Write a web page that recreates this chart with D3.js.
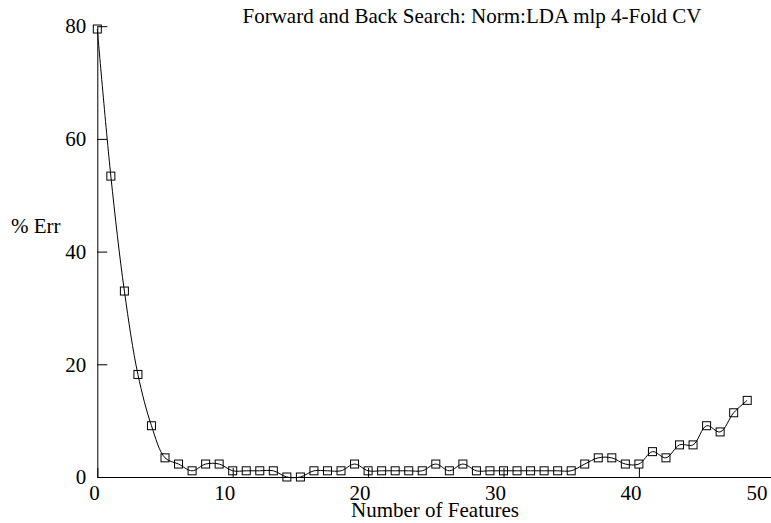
<!DOCTYPE html>
<html>
<head>
<meta charset="utf-8">
<script src="https://cdn.jsdelivr.net/npm/d3@7"></script>
<style>
  html, body { margin: 0; padding: 0; background: #fff; }
  svg { display: block; }
  text { font-family: "Liberation Serif", "Times New Roman", serif; fill: #000; }
</style>
</head>
<body>
<svg width="771" height="523"></svg>
<script>
var title = "Forward and Back Search: Norm:LDA mlp 4-Fold CV"
var xLabel = "Number of Features"
var yLabel = "% Err"
var xTicks = [0, 10, 20, 30, 40, 50]
var yTicks = [0, 20, 40, 60, 80]
var features = d3.range(0, 49)
var errors = [
  79.5, 53.4, 33.0, 18.2, 9.1, 3.4, 2.3, 1.1, 2.3, 2.3,
  1.1, 1.1, 1.1, 1.1, 0, 0, 1.1, 1.1, 1.1, 2.3,
  1.1, 1.1, 1.1, 1.1, 1.1, 2.3, 1.1, 2.3, 1.1, 1.1,
  1.1, 1.1, 1.1, 1.1, 1.1, 1.1, 2.3, 3.4, 3.4, 2.3,
  2.3, 4.5, 3.4, 5.7, 5.7, 9.1, 8.0, 11.4, 13.6
]

var width = 771
var height = 523
var margin = ({top: 26.2, right: -3.3, bottom: 46, left: 97.3})

var x = d3.scaleLinear()
  .domain([0, 50])
  .range([margin.left, width - margin.right])

var y = d3.scaleLinear()
  .domain([0, 80])
  .range([height - margin.bottom, margin.top])

var svg = d3.select("svg")

// x axis
var gx = svg.append("g")
  .attr("transform", `translate(0,${y(0)})`)
  .call(d3.axisBottom(x).tickValues(xTicks).tickSizeInner(-9).tickSizeOuter(0).tickPadding(8))
gx.select(".domain").attr("d", `M${x(0)},0.5H${width}`)
gx.selectAll("text")
  .attr("font-size", 21)
  .attr("font-family", "Liberation Serif")
  .attr("text-anchor", "end")
  .attr("x", d => Math.min(x(d) + 2, 767) - x(d))

// y axis
var gy = svg.append("g")
  .attr("transform", `translate(${x(0)},0)`)
  .call(d3.axisLeft(y).tickValues(yTicks).tickSizeInner(-10).tickSizeOuter(0).tickPadding(11))
gy.selectAll("text")
  .attr("font-size", 21)
  .attr("font-family", "Liberation Serif")
svg.selectAll(".domain, .tick line").attr("stroke", "#000")

// curve
var line = d3.line()
  .x((d, i) => x(features[i]))
  .y(d => y(d))
  .curve(d3.curveCatmullRom.alpha(0.5))

svg.append("path")
  .datum(errors)
  .attr("fill", "none")
  .attr("stroke", "#000")
  .attr("stroke-width", 1)
  .attr("d", line)

// square markers
svg.append("g")
  .selectAll("rect")
  .data(errors)
  .join("rect")
  .attr("x", (d, i) => x(features[i]) - 4)
  .attr("y", d => y(d) - 4)
  .attr("width", 8)
  .attr("height", 8)
  .attr("fill", "none")
  .attr("stroke", "#000")
  .attr("stroke-width", 1)

// labels
svg.append("text")
  .attr("x", 472)
  .attr("y", 23)
  .attr("text-anchor", "middle")
  .attr("font-size", 21)
  .text(title)

svg.append("text")
  .attr("x", 435)
  .attr("y", 517)
  .attr("text-anchor", "middle")
  .attr("font-size", 21)
  .text(xLabel)

svg.append("text")
  .attr("x", 11)
  .attr("y", 233)
  .attr("font-size", 21)
  .text(yLabel)
</script>
</body>
</html>
